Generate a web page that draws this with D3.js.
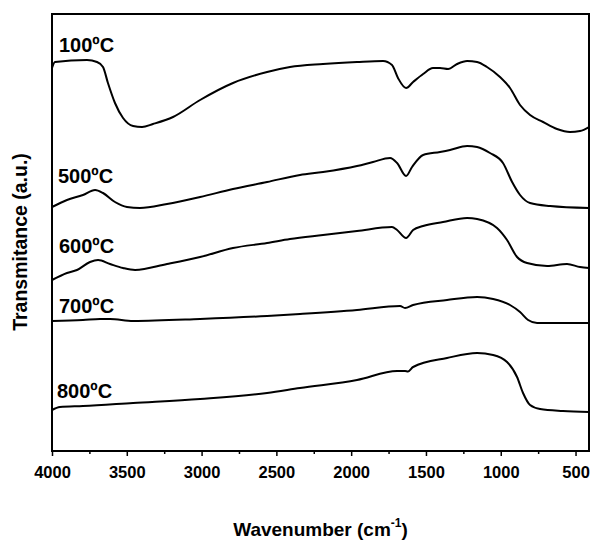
<!DOCTYPE html>
<html>
<head>
<meta charset="utf-8">
<script src="https://cdn.jsdelivr.net/npm/d3@7"></script>
<style>
    body { margin: 0; background: #fff; }
    text { font-family: "Liberation Sans", Arial, sans-serif; font-weight: bold; fill: #000; }
</style>
</head>
<body>
<svg id="chart"></svg>
<script>
// spectra: [wavenumber cm-1, transmittance a.u. (offset)]
const spectrum100 = [
    [4000, 383], [3980, 389], [3766, 391], [3699, 389], [3659, 384], [3626, 368], [3579, 348],
    [3525, 333], [3458, 325], [3398, 324], [3325, 327], [3191, 334], [3010, 351], [2790, 368],
    [2562, 379], [2409, 384], [2188, 387], [1961, 389], [1787, 390], [1727, 386], [1687, 373],
    [1633, 363], [1586, 369], [1519, 377], [1453, 383], [1406, 383], [1352, 382], [1292, 387],
    [1225, 390], [1158, 389], [1092, 384], [1005, 374], [938, 363], [871, 346], [804, 336],
    [717, 329], [624, 322], [537, 319], [470, 320], [410, 324]
];
const spectrum500 = [
    [4000, 244], [3900, 251], [3793, 256], [3712, 261], [3659, 258], [3579, 249], [3499, 244],
    [3412, 243], [3231, 247], [3010, 254], [2790, 262], [2562, 269], [2342, 276], [2188, 279],
    [1961, 285], [1854, 289], [1740, 293], [1693, 288], [1633, 275], [1593, 284], [1519, 296],
    [1406, 299], [1339, 301], [1225, 305], [1158, 304], [1072, 298], [985, 288], [924, 269],
    [871, 256], [804, 248], [670, 245], [410, 243]
];
const spectrum600 = [
    [4000, 171], [3900, 178], [3833, 181], [3746, 189], [3692, 191], [3612, 187], [3525, 183],
    [3445, 181], [3231, 187], [3010, 194], [2790, 203], [2562, 208], [2409, 212], [2188, 216],
    [1961, 220], [1727, 224], [1693, 221], [1633, 213], [1586, 221], [1519, 225], [1386, 229],
    [1225, 233], [1158, 232], [1025, 223], [958, 211], [891, 194], [824, 188], [690, 185],
    [557, 187], [470, 184], [410, 183]
];
const spectrum700 = [
    [4000, 130], [3793, 131], [3679, 132], [3612, 132], [3458, 130], [3010, 132], [2562, 135],
    [2342, 137], [1961, 141], [1673, 145], [1640, 143], [1586, 146], [1359, 151], [1158, 154],
    [1051, 152], [938, 146], [871, 139], [817, 131], [757, 128], [410, 128]
];
const spectrum800 = [
    [4000, 41], [3947, 44], [3793, 45], [3458, 48], [3010, 52], [2562, 58], [2342, 63],
    [1961, 71], [1693, 80], [1640, 80], [1620, 79.5], [1586, 84], [1359, 93], [1158, 98],
    [1051, 96], [958, 89], [891, 74], [851, 58], [804, 46], [737, 42], [584, 40], [410, 39]
];

const seriesLabels = ["100ºC", "500ºC", "600ºC", "700ºC", "800ºC"];
const labelPos = [[59, 52], [58, 183], [59, 253], [59, 313], [57, 398]];
const xTicks = [4000, 3500, 3000, 2500, 2000, 1500, 1000, 500];
const xMinorTicks = [3750, 3250, 2750, 2250, 1750, 1250, 750];

const margin = { top: 14, right: 2, bottom: 91, left: 52 };
const width = 591 - margin.left - margin.right;
const height = 542 - margin.top - margin.bottom;

const svg = d3.select("#chart")
    .attr("width", 591)
    .attr("height", 542)
    .append("g")
    .attr("transform", `translate(${margin.left}, ${margin.top})`);

const xScale = d3.scaleLinear()
    .domain([4000, 410])
    .range([0, width]);

const yScale = d3.scaleLinear()
    .domain([0, height])
    .range([height, 0]);

const line = d3.line()
    .x(d => xScale(d[0]))
    .y(d => yScale(d[1]))
    .curve(d3.curveMonotoneX);

const spectra = [spectrum100, spectrum500, spectrum600, spectrum700, spectrum800];

svg.selectAll(".spectrum")
    .data(spectra)
    .enter()
    .append("path")
    .attr("class", "spectrum")
    .attr("d", line)
    .attr("fill", "none")
    .attr("stroke", "#000")
    .attr("stroke-width", 2)
    .attr("stroke-linejoin", "round");

// minor ticks first, then major axis on top
svg.append("g")
    .attr("transform", `translate(0, ${height})`)
    .call(d3.axisBottom(xScale).tickValues(xMinorTicks).tickSize(3).tickFormat(""))
    .call(g => g.select(".domain").remove())
    .selectAll("line").attr("stroke-width", 1.5);

const xAxis = svg.append("g")
    .attr("transform", `translate(0, ${height})`)
    .call(d3.axisBottom(xScale).tickValues(xTicks).tickSize(5).tickPadding(10)
        .tickSizeOuter(0).tickFormat(d3.format("d")));

xAxis.select(".domain").remove();
xAxis.selectAll("line").attr("stroke-width", 1.5);
xAxis.selectAll("text")
    .attr("font-size", "16.5px")
    .attr("font-family", "Liberation Sans, Arial, sans-serif")
    .attr("font-weight", "bold");

svg.append("rect")
    .attr("x", 0)
    .attr("y", 0)
    .attr("width", width)
    .attr("height", height)
    .attr("fill", "none")
    .attr("stroke", "#000")
    .attr("stroke-width", 2);

svg.selectAll(".series-label")
    .data(seriesLabels)
    .enter()
    .append("text")
    .attr("class", "series-label")
    .attr("x", (d, i) => labelPos[i][0] - margin.left)
    .attr("y", (d, i) => labelPos[i][1] - margin.top)
    .attr("font-size", "20px")
    .text(d => d);

const xTitle = svg.append("text")
    .attr("x", width / 2)
    .attr("y", 536 - margin.top)
    .attr("text-anchor", "middle")
    .attr("font-size", "19px");
xTitle.append("tspan").text("Wavenumber (cm");
xTitle.append("tspan").attr("font-size", "12px").attr("dy", "-9").text("-1");
xTitle.append("tspan").attr("dy", "9").text(")");

svg.append("text")
    .attr("transform", `translate(${27 - margin.left}, ${242 - margin.top}) rotate(-90)`)
    .attr("text-anchor", "middle")
    .attr("font-size", "19.5px")
    .text("Transmitance (a.u.)");
</script>
</body>
</html>
